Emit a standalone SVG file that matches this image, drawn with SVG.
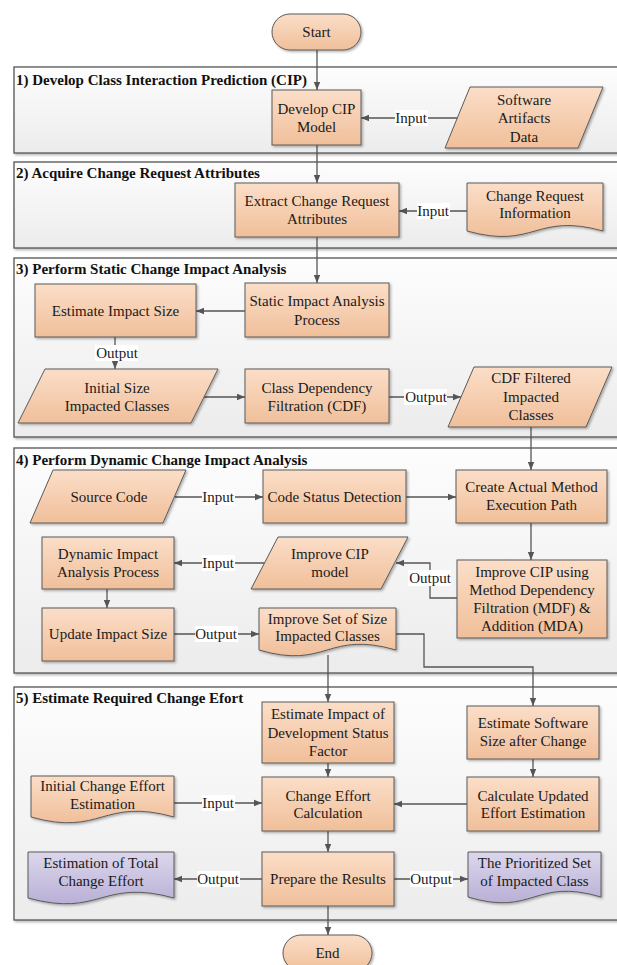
<svg xmlns="http://www.w3.org/2000/svg" width="617" height="965" viewBox="0 0 617 965">
<defs>
<linearGradient id="gBox" x1="0" y1="0" x2="0" y2="1"><stop offset="0" stop-color="#fbdec8"/><stop offset="1" stop-color="#f0bf9a"/></linearGradient>
<linearGradient id="gPur" x1="0" y1="0" x2="0" y2="1"><stop offset="0" stop-color="#dcd7ec"/><stop offset="1" stop-color="#b9b0d6"/></linearGradient>
<linearGradient id="gPan" x1="0" y1="0" x2="0" y2="1"><stop offset="0" stop-color="#fdfdfd"/><stop offset="1" stop-color="#ececec"/></linearGradient>
<filter id="sh" x="-10%" y="-10%" width="130%" height="130%"><feDropShadow dx="1.5" dy="1.5" stdDeviation="0.8" flood-color="#000" flood-opacity="0.3"/></filter>
<marker id="ah" markerWidth="8" markerHeight="8" viewBox="0 0 8 8" refX="8" refY="4" orient="auto" markerUnits="userSpaceOnUse"><path d="M0,0.8 L8,4 L0,7.2 Z" fill="#555"/></marker>
</defs>
<style>
.pan{fill:url(#gPan);stroke:#555;stroke-width:1.3;filter:url(#sh)}
.box{fill:url(#gBox);stroke:#5a5a5a;stroke-width:1;filter:url(#sh)}
.pur{fill:url(#gPur);stroke:#5a5a5a;stroke-width:1;filter:url(#sh)}
.t{font-family:"Liberation Serif","Times New Roman",serif;font-size:15px;fill:#1a1a1a;text-anchor:middle;dominant-baseline:central}
.h{font-family:"Liberation Serif","Times New Roman",serif;font-size:15px;font-weight:bold;fill:#111}
.c{fill:none;stroke:#555;stroke-width:1.3;marker-end:url(#ah)}
.n{fill:none;stroke:#555;stroke-width:1.3}
.lb{fill:#fff}
</style>

<g id="panels">
<rect class="pan" x="14" y="67" width="630" height="86"/>
<text class="h" x="16" y="85">1) Develop Class Interaction Prediction (CIP)</text>
<rect class="pan" x="14" y="162" width="630" height="86"/>
<text class="h" x="16" y="178">2) Acquire Change Request Attributes</text>
<rect class="pan" x="14" y="258" width="630" height="179"/>
<text class="h" x="16" y="274">3) Perform Static Change Impact Analysis</text>
<rect class="pan" x="14" y="448" width="630" height="225"/>
<text class="h" x="16" y="465">4) Perform Dynamic Change Impact Analysis</text>
<rect class="pan" x="14" y="687" width="630" height="233"/>
<text class="h" x="16" y="703">5) Estimate Required Change Efort</text>
</g>

<g id="connectors">
<path class="c" d="M317,50 V90"/>
<path class="c" d="M457,118 H361"/>
<path class="c" d="M317,145 V183"/>
<path class="c" d="M467,211 H399"/>
<path class="c" d="M317,237 V283"/>
<path class="c" d="M245,311 H196"/>
<path class="c" d="M115,337 V369"/>
<path class="c" d="M204,397 H245"/>
<path class="c" d="M389,397 H461"/>
<path class="c" d="M531,427 V470"/>
<path class="c" d="M175,497 H263"/>
<path class="c" d="M406,497 H456"/>
<path class="c" d="M531,523 V560"/>
<path class="c" d="M457,598 H430 V563 H396"/>
<path class="c" d="M265,563 H174"/>
<path class="c" d="M107,589 V608"/>
<path class="c" d="M174,634 H259"/>
<path class="c" d="M396,634 H424 V667 H533 V706"/>
<path class="c" d="M328,655 V702"/>
<path class="c" d="M328,763 V777"/>
<path class="c" d="M533,759 V777"/>
<path class="c" d="M174,803 H262"/>
<path class="c" d="M467,804 H394"/>
<path class="c" d="M328,831 V852"/>
<path class="c" d="M262,879 H174"/>
<path class="c" d="M394,879 H468"/>
<path class="c" d="M328,906 V935"/>
<g id="labels">
<rect class="lb" x="395" y="110" width="33" height="16"/><text class="t" x="411" y="118">Input</text>
<rect class="lb" x="417" y="203" width="33" height="16"/><text class="t" x="433" y="211">Input</text>
<rect class="lb" x="95" y="345" width="43" height="16"/><text class="t" x="117" y="353">Output</text>
<rect class="lb" x="404" y="389" width="43" height="16"/><text class="t" x="426" y="397">Output</text>
<rect class="lb" x="202" y="489" width="33" height="16"/><text class="t" x="218" y="497">Input</text>
<rect class="lb" x="408" y="570" width="43" height="16"/><text class="t" x="430" y="578">Output</text>
<rect class="lb" x="202" y="555" width="33" height="16"/><text class="t" x="218" y="563">Input</text>
<rect class="lb" x="195" y="626" width="43" height="16"/><text class="t" x="216" y="634">Output</text>
<rect class="lb" x="202" y="795" width="33" height="16"/><text class="t" x="218" y="803">Input</text>
<rect class="lb" x="197" y="871" width="43" height="16"/><text class="t" x="218" y="879">Output</text>
<rect class="lb" x="410" y="871" width="43" height="16"/><text class="t" x="431" y="879">Output</text>
</g>
</g>

<g id="start"><rect class="box" x="272" y="14" width="89" height="36" rx="18"/><text class="t" x="316.5" y="32">Start</text></g>

<g id="developCIP"><rect class="box" x="272" y="90" width="89" height="55"/><text class="t" x="316.5" y="109">Develop CIP</text><text class="t" x="316.5" y="127">Model</text></g>
<g id="softwareArtifacts"><polygon class="box" points="470,87 603,87 578,148 445,148"/><text class="t" x="524" y="100">Software</text><text class="t" x="524" y="118">Artifacts</text><text class="t" x="524" y="137">Data</text></g>

<g id="extract"><rect class="box" x="235" y="183" width="164" height="54"/><text class="t" x="317" y="201">Extract Change Request</text><text class="t" x="317" y="219">Attributes</text></g>
<g id="changeRequestInfo"><path class="box" d="M467,183 H603 V231 C535,212 535,250 467,231 Z"/><text class="t" x="535" y="196">Change Request</text><text class="t" x="535" y="213">Information</text></g>

<g id="staticImpact"><rect class="box" x="245" y="283" width="144" height="54"/><text class="t" x="317" y="301">Static Impact Analysis</text><text class="t" x="317" y="320">Process</text></g>
<g id="estimateImpactSize"><rect class="box" x="35" y="284" width="161" height="53"/><text class="t" x="115.5" y="311">Estimate Impact Size</text></g>
<g id="initialSize"><polygon class="box" points="45,369 218,369 191,423 18,423"/><text class="t" x="117" y="388">Initial Size</text><text class="t" x="117" y="406">Impacted Classes</text></g>
<g id="cdf"><rect class="box" x="245" y="369" width="144" height="54"/><text class="t" x="317" y="388">Class Dependency</text><text class="t" x="317" y="406">Filtration (CDF)</text></g>
<g id="cdfFiltered"><polygon class="box" points="474,367 612,367 586,427 448,427"/><text class="t" x="531" y="378">CDF Filtered</text><text class="t" x="531" y="397">Impacted</text><text class="t" x="531" y="415">Classes</text></g>

<g id="sourceCode"><polygon class="box" points="53,470 186,470 163,523 30,523"/><text class="t" x="109" y="497">Source Code</text></g>
<g id="codeStatus"><rect class="box" x="263" y="470" width="143" height="53"/><text class="t" x="334.5" y="497">Code Status Detection</text></g>
<g id="createPath"><rect class="box" x="456" y="470" width="151" height="53"/><text class="t" x="531.5" y="487">Create Actual Method</text><text class="t" x="531.5" y="505">Execution Path</text></g>
<g id="improveCIPusing"><rect class="box" x="457" y="560" width="150" height="78"/><text class="t" x="532" y="572">Improve CIP using</text><text class="t" x="532" y="590">Method Dependency</text><text class="t" x="532" y="608">Filtration (MDF) &amp;</text><text class="t" x="532" y="626">Addition (MDA)</text></g>
<g id="improveCIPmodel"><polygon class="box" points="278,537 408,537 381,589 251,589"/><text class="t" x="330" y="554">Improve CIP</text><text class="t" x="330" y="572">model</text></g>
<g id="dynamicImpact"><rect class="box" x="42" y="537" width="132" height="52"/><text class="t" x="108" y="554">Dynamic Impact</text><text class="t" x="108" y="572">Analysis Process</text></g>
<g id="updateImpact"><rect class="box" x="42" y="608" width="132" height="53"/><text class="t" x="108" y="634">Update Impact Size</text></g>
<g id="improveSet"><path class="box" d="M259,608 H396 V650 C327,630 327,670 259,650 Z"/><text class="t" x="327.5" y="619">Improve Set of Size</text><text class="t" x="327.5" y="636">Impacted Classes</text></g>

<g id="estimateDevStatus"><rect class="box" x="262" y="702" width="132" height="61"/><text class="t" x="328" y="714">Estimate Impact of</text><text class="t" x="328" y="733">Development Status</text><text class="t" x="328" y="751">Factor</text></g>
<g id="estimateSoftwareSize"><rect class="box" x="467" y="706" width="132" height="53"/><text class="t" x="533" y="723">Estimate Software</text><text class="t" x="533" y="741">Size after Change</text></g>
<g id="initialEffort"><path class="box" d="M31,776 H174 V817 C102,797 102,837 31,817 Z"/><text class="t" x="102.5" y="786">Initial Change Effort</text><text class="t" x="102.5" y="804">Estimation</text></g>
<g id="changeEffortCalc"><rect class="box" x="262" y="777" width="132" height="54"/><text class="t" x="328" y="796">Change Effort</text><text class="t" x="328" y="813">Calculation</text></g>
<g id="calculateUpdated"><rect class="box" x="467" y="777" width="132" height="54"/><text class="t" x="533" y="796">Calculate Updated</text><text class="t" x="533" y="813">Effort Estimation</text></g>
<g id="prepareResults"><rect class="box" x="262" y="852" width="132" height="54"/><text class="t" x="328" y="879">Prepare the Results</text></g>
<g id="totalEffort"><path class="pur" d="M28,852 H174 V898 C101,878 101,918 28,898 Z"/><text class="t" x="101" y="863">Estimation of Total</text><text class="t" x="101" y="881">Change Effort</text></g>
<g id="prioritizedSet"><path class="pur" d="M468,852 H601 V897 C534,877 534,917 468,897 Z"/><text class="t" x="534.5" y="863">The Prioritized Set</text><text class="t" x="534.5" y="881">of Impacted Class</text></g>

<g id="end"><rect class="box" x="283" y="935" width="89" height="36" rx="18"/><text class="t" x="327.5" y="953">End</text></g>
</svg>
